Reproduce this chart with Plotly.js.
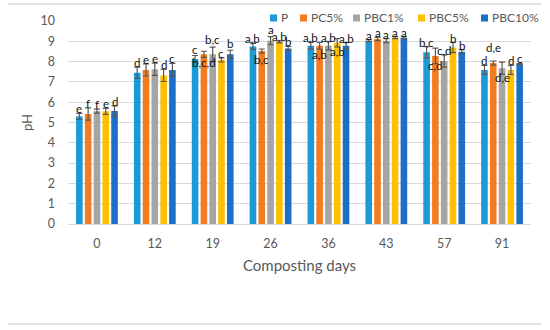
<!DOCTYPE html>
<html><head><meta charset="utf-8">
<script src="https://cdn.plot.ly/plotly-3.0.1.min.js"></script>
<style>html,body{margin:0;padding:0;background:#fff}#c{width:550px;height:330px}</style>
</head><body><div id="c"></div>
<script>
const days = ["0","12","19","26","36","43","57","91"];
const seriesNames = ["P","PC5%","PBC1%","PBC5%","PBC10%"];
const colors = ["#1a9ad6","#f47c20","#a5a5a5","#ffc000","#1c6fc8"];
const P      = [5.30, 7.45, 8.13, 8.75, 8.78, 9.03, 8.46, 7.59];
const PC5    = [5.42, 7.59, 8.36, 8.52, 8.78, 9.11, 8.28, 7.93];
const PBC1   = [5.56, 7.62, 8.36, 9.03, 8.78, 9.03, 8.03, 7.67];
const PBC5   = [5.55, 7.32, 8.08, 8.97, 8.93, 9.18, 8.69, 7.59];
const PBC10  = [5.57, 7.59, 8.36, 8.65, 8.78, 9.18, 8.49, 7.88];
const errP     = [0.15, 0.28, 0.17, 0.15, 0.17, 0.05, 0.28, 0.22];
const errPC5   = [0.30, 0.30, 0.15, 0.10, 0.17, 0.08, 0.38, 0.10];
const errPBC1  = [0.10, 0.30, 0.35, 0.20, 0.20, 0.10, 0.30, 0.30];
const errPBC5  = [0.15, 0.30, 0.10, 0.05, 0.20, 0.05, 0.25, 0.22];
const errPBC10 = [0.25, 0.32, 0.20, 0.10, 0.15, 0.05, 0.10, 0.03];
const lettersP     = ["e","d","c","a,b","a,b","a","b,c","d"];
const lettersPC5   = ["f","e","b,c,d","b,c","a,b","a","c,d","d,e"];
const lettersPBC1  = ["f","e","b,c","a","a,b","a","c,d","d,e"];
const lettersPBC5  = ["e","d","c","a,b","a,b","a","b","d"];
const lettersPBC10 = ["d","c","b","b","a,b","a","b","c"];
// true = letter drawn below the bar top
const belowPC5  = [false,false,true,true,true,false,true,false];
const belowPBC1 = [false,false,false,false,false,false,false,true];
const belowPBC5 = [false,false,false,false,true,false,false,false];

const vals = [P,PC5,PBC1,PBC5,PBC10];
const errs = [errP,errPC5,errPBC1,errPBC5,errPBC10];
const letters = [lettersP,lettersPC5,lettersPBC1,lettersPBC5,lettersPBC10];
const below = [days.map(()=>false),belowPC5,belowPBC1,belowPBC5,days.map(()=>false)];
// extra vertical lift (px) for crowded labels: "series-group"
const lift = {"1-7":9, "2-2":3, "4-2":2, "2-3":3, "0-2":2};

const traces = seriesNames.map((n,i)=>({
  type:'bar', name:n, x:days, y:vals[i], showlegend:false,
  marker:{color:colors[i], line:{width:0}},
  error_y:{type:'data', array:errs[i], visible:true, color:'#595959', thickness:1.2, width:3}
}));

const annotations = [];
vals.forEach((arr,i)=>{
  arr.forEach((v,j)=>{
    const b = below[i][j];
    annotations.push({
      x:j, y: b ? v - errs[i][j]*0.3 : v + errs[i][j], xref:'x', yref:'y',
      text:letters[i][j], showarrow:false, borderpad:0,
      xshift:(i-2)*8.8, yanchor: b ? 'top':'bottom', yshift: b ? 0 : (-3 + (lift[i+'-'+j]||0)),
      font:{family:'Lato, Liberation Sans, sans-serif', size:11.5, color:'#111'}
    });
  });
});

// custom legend (pixel positions converted to paper coordinates)
const plotL = 68, plotW = 463, plotB = 224, plotH = 203;
const legSq = [270, 300, 353, 418, 481];
const legY = 18;
const shapes = [
  {type:'line', xref:'paper', yref:'paper', x0:(8-plotL)/plotW, x1:(541-plotL)/plotW, y0:(plotB-4)/plotH, y1:(plotB-4)/plotH, line:{color:'#d9d9d9', width:1.5}},
  {type:'line', xref:'paper', yref:'paper', x0:(8-plotL)/plotW, x1:(541-plotL)/plotW, y0:(plotB-324)/plotH, y1:(plotB-324)/plotH, line:{color:'#d9d9d9', width:1.5}}
];
seriesNames.forEach((n,i)=>{
  shapes.push({type:'rect', xref:'paper', yref:'paper', line:{width:0}, fillcolor:colors[i],
    x0:(legSq[i]-plotL)/plotW, x1:(legSq[i]+7-plotL)/plotW,
    y0:(plotB-legY-3.5)/plotH, y1:(plotB-legY+3.5)/plotH});
  annotations.push({xref:'paper', yref:'paper', x:(legSq[i]+10-plotL)/plotW, y:(plotB-legY)/plotH,
    xanchor:'left', yanchor:'middle', showarrow:false, text:n, bgcolor:'#fff', borderpad:0,
    font:{family:'Lato, Liberation Sans, sans-serif', size:12, color:'#595959'}});
});

const layout = {
  width:550, height:330,
  margin:{l:68, r:19, t:21, b:106},
  paper_bgcolor:'#fff', plot_bgcolor:'#fff',
  barmode:'group', bargap:0.24, bargroupgap:0.25,
  font:{family:'Lato, Liberation Sans, sans-serif', color:'#595959'},
  xaxis:{type:'category', range:[-0.5,7.5], autorange:false, tickfont:{size:12.5, color:'#595959'}, ticks:'', showline:true, linecolor:'#d9d9d9',
    ticklabelstandoff:8,
    title:{text:'Composting days', font:{size:15, color:'#595959'}, standoff:10}},
  yaxis:{range:[0,10], autorange:false, dtick:1, tickfont:{size:12.5, color:'#595959'}, gridcolor:'#d9d9d9', zeroline:false,
    ticklabelstandoff:12,
    title:{text:'pH', font:{size:13, color:'#595959'}, standoff:4}},
  annotations:annotations,
  shapes:shapes,
  showlegend:false
};
Plotly.newPlot('c', traces, layout, {displayModeBar:false, staticPlot:true});
</script></body></html>
